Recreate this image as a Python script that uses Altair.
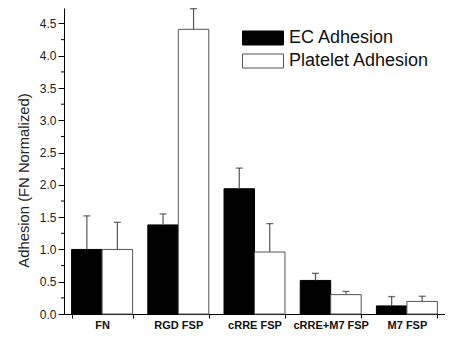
import altair as alt
import pandas as pd

categories = ["FN", "RGD FSP", "cRRE FSP", "cRRE+M7 FSP", "M7 FSP"]
series = ["EC Adhesion", "Platelet Adhesion"]
ec_values = [1.0, 1.38, 1.94, 0.52, 0.125]
ec_errors = [0.52, 0.17, 0.32, 0.11, 0.145]
platelet_values = [1.0, 4.41, 0.96, 0.30, 0.195]
platelet_errors = [0.42, 0.32, 0.44, 0.05, 0.08]
y_major = [0.0, 0.5, 1.0, 1.5, 2.0, 2.5, 3.0, 3.5, 4.0, 4.5]
y_minor = [0.25, 0.75, 1.25, 1.75, 2.25, 2.75, 3.25, 3.75, 4.25]

rows = []
for s, vals, errs in [(series[0], ec_values, ec_errors), (series[1], platelet_values, platelet_errors)]:
    for c, v, e in zip(categories, vals, errs):
        rows.append({"category": c, "series": s, "value": v, "top": v + e})
df = pd.DataFrame(rows)
minor_df = pd.DataFrame({"y": y_minor})

W, H = 381, 306
ymax = 4.74

xscale = alt.Scale(domain=categories, paddingInner=0.2, paddingOuter=0.1)
yscale = alt.Scale(domain=[0, ymax], nice=False, zero=True)

x_axis = alt.Axis(labelAngle=0, labelFont="Liberation Sans", labelFontWeight="bold",
                  labelFontSize=11, labelColor="#111", tickBand="extent",
                  tickSize=4, tickColor="black", domainColor="black",
                  labelPadding=1, labelOverlap=False)
y_axis = alt.Axis(values=y_major, format=".1f", tickSize=6, tickColor="black",
                  domainColor="black", labelFont="Liberation Sans", labelFontSize=12,
                  labelColor="#222", labelPadding=2, labelOverlap=False, tickCount=10,
                  titleFont="Liberation Sans",
                  titleFontSize=14.8, titleFontWeight="normal", titleColor="#222",
                  titlePadding=8, titleY=172, grid=False)
ytitle = "Adhesion (FN Normalized)"

x_enc = alt.X("category:N", scale=xscale, sort=categories, title=None, axis=x_axis)
xo_enc = alt.XOffset("series:N", sort=series, scale=alt.Scale(paddingInner=0, paddingOuter=0))

bars = alt.Chart(df).mark_bar(strokeWidth=1).encode(
    x=x_enc,
    xOffset=xo_enc,
    y=alt.Y("value:Q", scale=yscale, title=ytitle, axis=y_axis),
    fill=alt.Fill("series:N", sort=series,
                  scale=alt.Scale(domain=series, range=["#000000", "#ffffff"]),
                  legend=alt.Legend(title=None, orient="none", legendX=190, legendY=21,
                                    symbolType="M-2.93,-1H2.93V1H-2.93Z", symbolSize=196,
                                    symbolStrokeWidth=1, labelFont="Liberation Sans",
                                    labelFontSize=18, labelColor="#111", labelOffset=17,
                                    rowPadding=5)),
    stroke=alt.Stroke("series:N", sort=series,
                      scale=alt.Scale(domain=series, range=["#000000", "#555555"]),
                      legend=None),
)

err = alt.Chart(df).mark_rule(color="#555555", strokeWidth=1.2).encode(
    x=x_enc,
    xOffset=xo_enc,
    y=alt.Y("value:Q", scale=yscale, title=ytitle, axis=y_axis),
    y2="top:Q",
)
caps = alt.Chart(df).mark_tick(color="#333333", thickness=1.3, size=7).encode(
    x=x_enc,
    xOffset=xo_enc,
    y=alt.Y("top:Q", scale=yscale, title=ytitle, axis=y_axis),
)
minor = alt.Chart(minor_df).mark_rule(color="black", strokeWidth=1).encode(
    y=alt.Y("y:Q", scale=yscale, title=ytitle, axis=y_axis),
    x=alt.value(-3),
    x2=alt.value(0),
)

chart = alt.layer(bars, err, caps, minor).properties(
    width=W, height=H,
    autosize=alt.AutoSizeParams(type="none"),
    padding={"left": 56, "top": 0, "right": 0, "bottom": 17},
).configure_view(stroke=None).configure_axis(domainWidth=1, tickWidth=1)

chart.save("out.html", embed_options={"renderer": "svg", "actions": False})
